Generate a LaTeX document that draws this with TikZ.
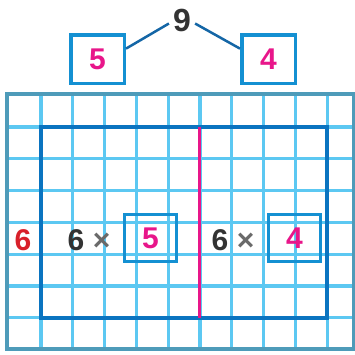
\documentclass[tikz,border=0pt]{standalone}
\usepackage{fontspec}
\setmainfont{Liberation Sans}
\usepackage{xcolor}
\usepackage{tikz}
\definecolor{gridblue}{HTML}{5CC8F2}
\definecolor{framegray}{HTML}{4E9BB9}
\definecolor{darkblue}{HTML}{0A74C0}
\definecolor{boxblue}{HTML}{1490D2}
\definecolor{linkblue}{HTML}{1466A6}
\definecolor{pinkdigit}{HTML}{E8168A}
\definecolor{redsix}{HTML}{D8202A}
\definecolor{darkdigit}{HTML}{333333}
\definecolor{crossgray}{HTML}{6A6A6A}

\begin{document}
\begin{tikzpicture}[x=1pt, y=-1pt, node distance=144pt,
  digit/.style={font=\fontsize{30}{30}\selectfont\bfseries, inner sep=1pt},
  gridline/.style={draw=gridblue, line width=3.2pt},
  factorbox/.style={rectangle, draw=boxblue, line width=3.5pt, minimum width=53.5pt, minimum height=48.5pt, digit, text=pinkdigit},
  rowbox/.style={rectangle, draw=boxblue, line width=3pt, minimum width=52pt, minimum height=47pt, digit, text=pinkdigit},
  link/.style={draw=linkblue, line width=2.5pt}]
\useasboundingbox (0,0) rectangle (355,354);
\foreach \i in {0,...,9}
  \draw[gridline] ({41+31.8*\i},94) -- ({41+31.8*\i},348.5);
\foreach \j in {0,...,6}
  \draw[gridline] (7,{127+31.8*\j}) -- (353.5,{127+31.8*\j});
\draw[draw=framegray, line width=4pt] (7,94) rectangle (353.5,348.5);
\draw[draw=darkblue, line width=3.5pt] (41,127) rectangle (327.2,317.8);
\draw[draw=pinkdigit, line width=3.5pt] (199.5,127) -- (199.5,317.8);

\node (nine) at (182,20) [digit, font=\fontsize{32}{32}\selectfont\bfseries, text=darkdigit, inner sep=4pt] {9};
\node (five) at (97.5,59) [factorbox] {5};
\node (four) [factorbox, right of=five, xshift=27pt] {4};
\draw[link] (nine.195) -- (five.20);
\draw[link] (nine.-15) -- (four.160);

\node (sixlabel) at (23,240) [digit, text=redsix] {6};
\node (leftprod) at (89,240) [digit, text=darkdigit] {6 \textcolor{crossgray}{×}};
\node (leftfive) at (150.5,238) [rowbox] {5};
\node (rightprod) [digit, text=darkdigit, right of=leftprod] {6 \textcolor{crossgray}{×}};
\node (rightfour) [rowbox, right of=leftfive] {4};
\end{tikzpicture}
\end{document}
